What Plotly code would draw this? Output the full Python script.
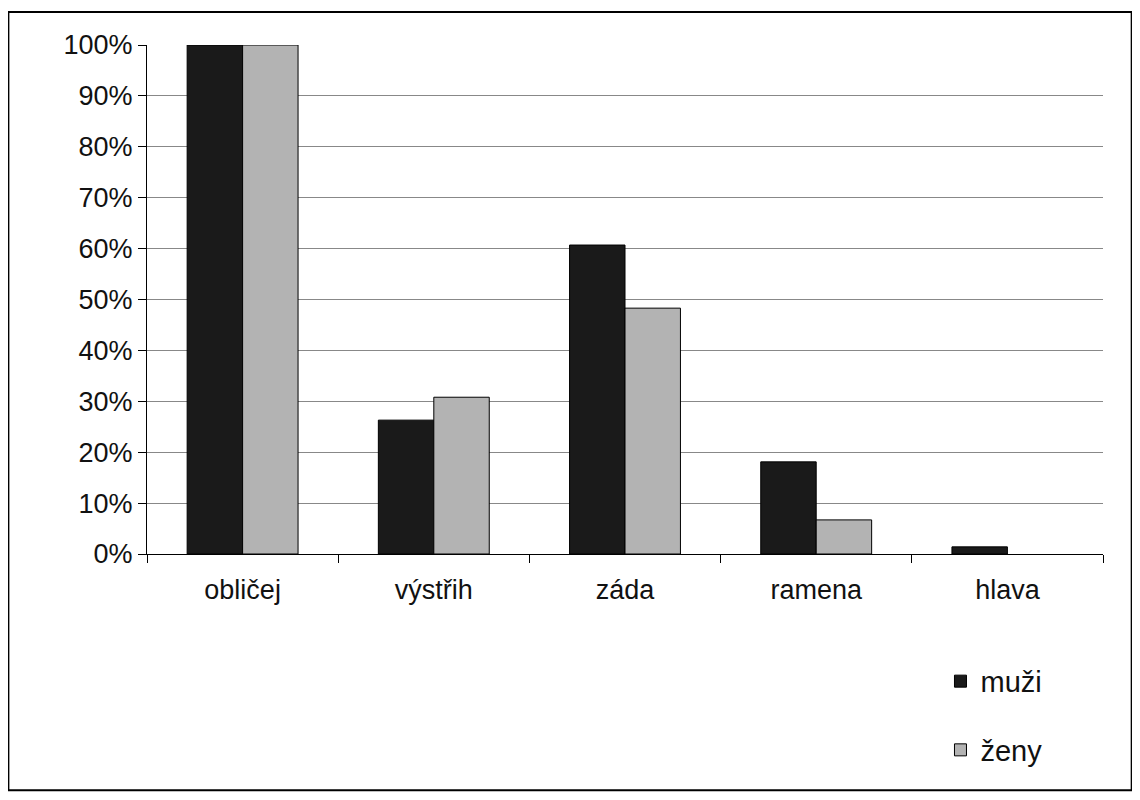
import plotly.graph_objects as go

categories = ["obličej", "výstřih", "záda", "ramena", "hlava"]
muzi = [100, 26.3, 60.7, 18.1, 1.4]
zeny = [100, 30.8, 48.3, 6.7, None]
ytick_vals = list(range(0, 101, 10))
ytick_text = [f"{v}%" for v in ytick_vals]

fig = go.Figure()
fig.add_trace(go.Bar(x=categories, y=muzi, name="muži", legendgroup="a",
                     marker=dict(color="#1a1a1a", line=dict(color="#000", width=1))))
fig.add_trace(go.Bar(x=categories, y=zeny, name="ženy", legendgroup="b",
                     marker=dict(color="#b3b3b3", line=dict(color="#000", width=1))))

# outer frame around the whole chart
fig.add_shape(type="rect", xref="paper", yref="paper",
              x0=-0.145, x1=1.030, y0=-0.464, y1=1.065,
              line=dict(color="#000", width=2))

fig.update_layout(
    width=1124, height=784,
    margin=dict(l=139, r=29, t=37, b=238),
    paper_bgcolor="white", plot_bgcolor="white",
    barmode="group", bargap=0.42, bargroupgap=0,
    font=dict(family="Liberation Sans, Arial, sans-serif", size=27, color="#111"),
    showlegend=True,
    legend=dict(x=0.83, y=-0.2, xanchor="left", yanchor="top",
                traceorder="grouped", tracegroupgap=28,
                font=dict(size=29), bgcolor="rgba(0,0,0,0)"),
    xaxis=dict(showline=True, linecolor="#000", linewidth=1,
               ticks="outside", tickson="boundaries", ticklen=8, tickcolor="#000",
               ticklabelstandoff=12),
    yaxis=dict(range=[0, 100], tickvals=ytick_vals, ticktext=ytick_text,
               showline=True, linecolor="#000", linewidth=1,
               ticks="outside", ticklen=8, tickcolor="#000",
               showgrid=True, gridcolor="#888", gridwidth=1, zeroline=False),
)

fig.write_html("out.html")
